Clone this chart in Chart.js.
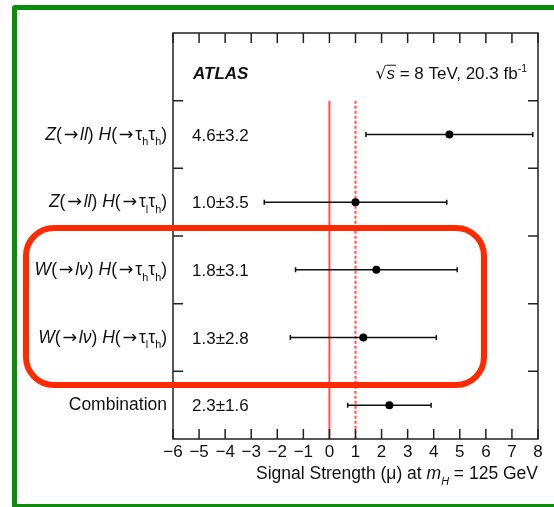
<!DOCTYPE html>
<html>
<head>
<meta charset="utf-8">
<script src="https://cdn.jsdelivr.net/npm/chart.js@4.4.1/dist/chart.umd.min.js"></script>
<style>
    html, body { margin: 0; padding: 0; background: #fff; overflow: hidden; }
    #wrap { position: relative; width: 554px; height: 507px; overflow: hidden; }
    #green { position: absolute; left: 12px; top: 5px; width: 620px; height: 504px;
             border: 5px solid #0b8c0b; border-radius: 3px; box-sizing: border-box; pointer-events: none; }
    canvas { position: absolute; left: 0; top: 0; }
</style>
</head>
<body>
<div id="wrap">
    <canvas id="chart" width="554" height="507"></canvas>
    <div id="green"></div>
</div>
<script>
// ===== DATA =====
const I = t => ({ t, it: true });
const R = t => ({ t });
const A = t => ({ t, f: '"DejaVu Sans"', pad: 1.8 });   // wide arrows
const Sub = t => ({ t, sub: true });

const rowLabels = [
    [I("Z"), R("("), A("→"), I("ll"), R(") "), I("H"), R("("), A("→"), R("τ"), Sub("h"), R("τ"), Sub("h"), R(")")],
    [I("Z"), R("("), A("→"), I("ll"), R(") "), I("H"), R("("), A("→"), R("τ"), Sub("l"), R("τ"), Sub("h"), R(")")],
    [I("W"), R("("), A("→"), I("lν"), R(") "), I("H"), R("("), A("→"), R("τ"), Sub("h"), R("τ"), Sub("h"), R(")")],
    [I("W"), R("("), A("→"), I("lν"), R(") "), I("H"), R("("), A("→"), R("τ"), Sub("l"), R("τ"), Sub("h"), R(")")],
    [R("Combination")]
];
const rowPos = [5, 4, 3, 2, 1];
const mu = [4.6, 1.0, 1.8, 1.3, 2.3];
const muErr = [3.2, 3.5, 3.1, 2.8, 1.6];
const xTicks = [-6, -5, -4, -3, -2, -1, 0, 1, 2, 3, 4, 5, 6, 7, 8];
const rowEdges = [1.5, 2.5, 3.5, 4.5, 5.5];

const FONT = '"Liberation Sans", Arial, Helvetica, sans-serif';

// draw text made of styled pieces
function segFont(s, size) {
    const sz = s.sub || s.sup ? size * 0.62 : size;
    return (s.it ? "italic " : "") + (s.b ? "bold " : "") + sz + "px " + (s.f || FONT);
}
function segWidth(ctx, s, size) {
    ctx.font = segFont(s, size);
    return ctx.measureText(s.t).width + 2 * (s.pad || 0);
}
function drawRich(ctx, segs, x, y, align, size) {
    const total = segs.reduce((w, s) => w + segWidth(ctx, s, size), 0);
    let cx = align === "right" ? x - total : x;
    ctx.textAlign = "left";
    ctx.textBaseline = "alphabetic";
    segs.forEach(s => {
        const w = segWidth(ctx, s, size);
        const dy = s.sub ? size * 0.33 : s.sup ? -size * 0.42 : 0;
        ctx.fillText(s.t, cx + (s.pad || 0), y + dy);
        if (s.over) {
            ctx.lineWidth = 1;
            ctx.beginPath();
            ctx.moveTo(cx, y - size * 0.8);
            ctx.lineTo(cx + w + 1, y - size * 0.8);
            ctx.stroke();
        }
        cx += w;
    });
}

const decor = {
    id: "decor",
    beforeDatasetsDraw(chart) {
        const { ctx, scales: { x, y } } = chart;
        ctx.save();
        // reference lines at mu = 0 and mu = 1
        ctx.strokeStyle = "#ff5050";
        ctx.lineWidth = 2;
        ctx.beginPath();
        ctx.moveTo(x.getPixelForValue(0), y.getPixelForValue(5.5));
        ctx.lineTo(x.getPixelForValue(0), y.getPixelForValue(0.5));
        ctx.stroke();
        ctx.setLineDash([3, 2]);
        ctx.beginPath();
        ctx.moveTo(x.getPixelForValue(1), y.getPixelForValue(5.5));
        ctx.lineTo(x.getPixelForValue(1), y.getPixelForValue(0.5));
        ctx.stroke();
        ctx.setLineDash([]);
        // error bars
        ctx.strokeStyle = "#111";
        ctx.lineWidth = 1.5;
        mu.forEach((m, i) => {
            const py = y.getPixelForValue(rowPos[i]);
            const x1 = x.getPixelForValue(m - muErr[i]);
            const x2 = x.getPixelForValue(m + muErr[i]);
            ctx.beginPath();
            ctx.moveTo(x1, py); ctx.lineTo(x2, py);
            ctx.moveTo(x1, py - 2.5); ctx.lineTo(x1, py + 2.5);
            ctx.moveTo(x2, py - 2.5); ctx.lineTo(x2, py + 2.5);
            ctx.stroke();
        });
        ctx.restore();
    },
    afterDraw(chart) {
        const { ctx, chartArea: a, scales: { x, y } } = chart;
        ctx.save();
        // frame + inward ticks
        ctx.strokeStyle = "#222";
        ctx.lineWidth = 1.5;
        ctx.strokeRect(a.left, a.top, a.right - a.left, a.bottom - a.top);
        ctx.beginPath();
        xTicks.forEach(v => {
            const px = x.getPixelForValue(v);
            ctx.moveTo(px, a.bottom); ctx.lineTo(px, a.bottom - 10);
            ctx.moveTo(px, a.top); ctx.lineTo(px, a.top + 10);
        });
        rowEdges.forEach(v => {
            const py = y.getPixelForValue(v);
            ctx.moveTo(a.left, py); ctx.lineTo(a.left + 10, py);
            ctx.moveTo(a.right, py); ctx.lineTo(a.right - 10, py);
        });
        ctx.stroke();

        ctx.fillStyle = "#111";
        ctx.strokeStyle = "#111";
        // row labels and values
        rowLabels.forEach((segs, i) => {
            const py = y.getPixelForValue(rowPos[i]);
            drawRich(ctx, segs, a.left - 6, py + 5, "right", 17.5);
            drawRich(ctx, [R(mu[i].toFixed(1) + "±" + muErr[i].toFixed(1))], a.left + 19, py + 6, "left", 17);
        });
        // header
        const hy = y.getPixelForValue(6) + 12;
        drawRich(ctx, [{ t: "ATLAS", it: true, b: true }], a.left + 20, hy, "left", 17);
        drawRich(ctx, [{ t: "√", f: '"DejaVu Sans"' }, { t: "s", it: true, over: true }, R(" = 8 TeV, 20.3 fb"), { t: "-1", sup: true }],
            a.right - 11, hy, "right", 17);
        // axis title
        drawRich(ctx, [R("Signal Strength (μ) at "), I("m"), { t: "H", it: true, sub: true }, R(" = 125 GeV")],
            a.right, 479, "right", 17.5);

        // highlight box
        ctx.strokeStyle = "#ff2a00";
        ctx.lineWidth = 6;
        ctx.beginPath();
        ctx.roundRect(26, 228, 458, 157, 28);
        ctx.stroke();
        ctx.restore();
    }
};

new Chart(document.getElementById("chart"), {
    type: "scatter",
    data: {
        datasets: [{
            data: mu.map((m, i) => ({ x: m, y: rowPos[i] })),
            pointRadius: 4,
            pointHoverRadius: 4,
            pointBackgroundColor: "#000",
            pointBorderWidth: 0
        }]
    },
    options: {
        responsive: false,
        animation: false,
        events: [],
        layout: { padding: { left: 173, right: 16, top: 33, bottom: 0 } },
        plugins: { legend: { display: false }, tooltip: { enabled: false } },
        scales: {
            x: {
                min: -6, max: 8,
                afterBuildTicks: s => { s.ticks = xTicks.map(v => ({ value: v })); },
                afterFit: s => { s.height = 68; },
                grid: { display: false, drawTicks: false },
                border: { display: false },
                ticks: {
                    padding: 3,
                    color: "#111",
                    font: { family: FONT, size: 17 },
                    callback: v => String(v).replace("-", "−")
                }
            },
            y: { display: false, min: 0.5, max: 6.5 }
        }
    },
    plugins: [decor]
});
</script>
</body>
</html>
